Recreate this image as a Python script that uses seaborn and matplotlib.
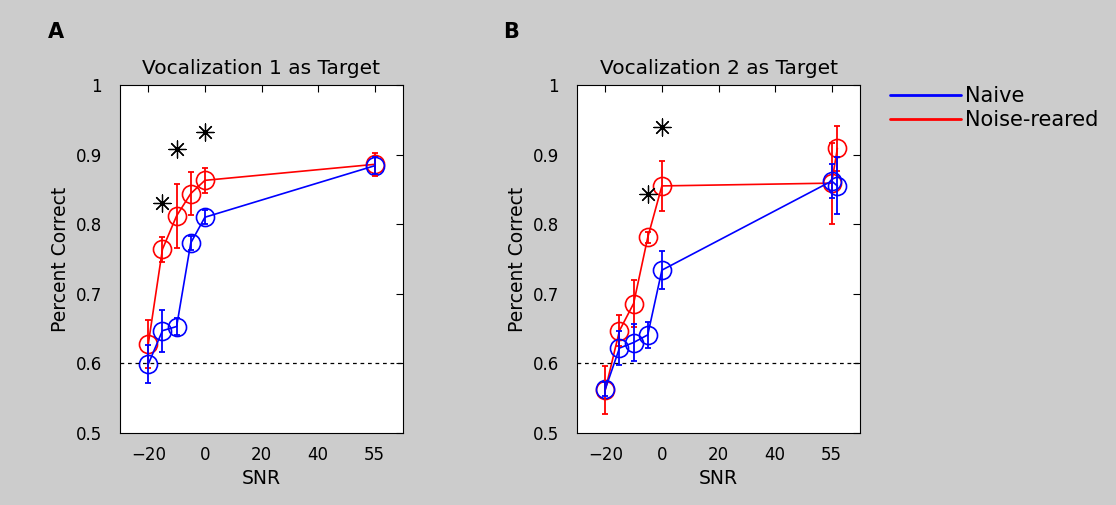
import seaborn as sns
import matplotlib.pyplot as plt
import pandas as pd

# data (SNR 55 is drawn at position 60)
snr_a = [-20, -15, -10, -5, 0, 60]
naive_a = [0.599, 0.647, 0.653, 0.773, 0.810, 0.884]
naive_a_err = [0.027, 0.030, 0.012, 0.010, 0.010, 0.012]
noise_a = [0.628, 0.764, 0.812, 0.844, 0.863, 0.886]
noise_a_err = [0.035, 0.018, 0.046, 0.031, 0.018, 0.017]
star_a_x = [-15, -10, 0]
star_a_y = [0.831, 0.908, 0.932]

snr_b = [-20, -15, -10, -5, 0, 60, 62]
naive_b = [0.563, 0.622, 0.630, 0.641, 0.734, 0.862, 0.855]
naive_b_err = [0.010, 0.025, 0.026, 0.019, 0.027, 0.025, 0.041]
noise_b = [0.562, 0.647, 0.686, 0.781, 0.855, 0.859, 0.909]
noise_b_err = [0.034, 0.022, 0.034, 0.008, 0.036, 0.058, 0.032]
star_b_x = [-5, 0]
star_b_y = [0.843, 0.940]

xticks = [-20, 0, 20, 40, 60]
xticklabels = ['\u221220', '0', '20', '40', '55']
yticks = [0.5, 0.6, 0.7, 0.8, 0.9, 1.0]
yticklabels = ['0.5', '0.6', '0.7', '0.8', '0.9', '1']

BLUE = '#0000ff'
RED = '#ff0000'

sns.set_style('white')
plt.rcParams['font.family'] = ['DejaVu Sans']
plt.rcParams['text.color'] = 'black'
plt.rcParams['axes.labelcolor'] = 'black'

fig = plt.figure(figsize=(11.16, 5.05), dpi=100, facecolor='#cccccc')
ax_a = fig.add_axes([120 / 1116, 1 - 433 / 505, 283 / 1116, 348 / 505])
ax_b = fig.add_axes([577 / 1116, 1 - 433 / 505, 283 / 1116, 348 / 505])


def draw(ax, x, naive, naive_err, noise, noise_err, sx, sy, title):
    df = pd.DataFrame({'SNR': x + x,
                       'pc': naive + noise,
                       'group': ['Naive'] * len(x) + ['Noise-reared'] * len(x)})
    sns.lineplot(data=df, x='SNR', y='pc', hue='group', hue_order=['Noise-reared', 'Naive'],
                 palette={'Naive': BLUE, 'Noise-reared': RED}, sort=False,
                 marker='o', markersize=13, markerfacecolor='none', markeredgewidth=1.2,
                 linewidth=1.2, legend=False, ax=ax)
    for line in ax.lines:
        line.set_markeredgecolor(line.get_color())
    # error bars drawn after the lines so their colour is not touched
    ax.errorbar(x, noise, yerr=noise_err, fmt='none', color=RED, ecolor=RED,
                elinewidth=1.3, capsize=2, capthick=1.3, zorder=3)
    ax.errorbar(x, naive, yerr=naive_err, fmt='none', color=BLUE, ecolor=BLUE,
                elinewidth=1.3, capsize=2, capthick=1.3, zorder=3)
    ax.scatter(sx, sy, marker=(8, 2, 0), s=150, color='black', linewidths=0.9, zorder=5)
    ax.axhline(0.6, color='black', linestyle=(0, (3, 3)), linewidth=0.9)
    ax.set_xlim(-30, 70)
    ax.set_ylim(0.5, 1.0)
    ax.set_xticks(xticks)
    ax.set_xticklabels(xticklabels)
    ax.set_yticks(yticks)
    ax.set_yticklabels(yticklabels)
    ax.tick_params(direction='in', length=5, width=0.8, top=True, right=True,
                   labelsize=12, colors='black')
    ax.tick_params(axis='y', pad=13)
    ax.tick_params(axis='x', pad=9)
    for s in ax.spines.values():
        s.set_visible(True)
        s.set_color('black')
        s.set_linewidth(0.8)
    ax.set_xlabel('SNR', fontsize=13.5, labelpad=4)
    ax.set_ylabel('Percent Correct', fontsize=13.5, labelpad=4)
    ax.set_title(title, fontsize=14.5, pad=8)


draw(ax_a, snr_a, naive_a, naive_a_err, noise_a, noise_a_err, star_a_x, star_a_y,
     'Vocalization 1 as Target')
draw(ax_b, snr_b, naive_b, naive_b_err, noise_b, noise_b_err, star_b_x, star_b_y,
     'Vocalization 2 as Target')

fig.text(48 / 1116, 1 - 32 / 505, 'A', fontsize=15, fontweight='bold', va='center')
fig.text(503 / 1116, 1 - 32 / 505, 'B', fontsize=15, fontweight='bold', va='center')

# legend outside, no frame
handles = [plt.Line2D([], [], color=BLUE, lw=2), plt.Line2D([], [], color=RED, lw=2)]
fig.legend(handles, ['Naive', 'Noise-reared'], loc='upper left',
           bbox_to_anchor=(882 / 1116, 1 - 78 / 505), frameon=False, fontsize=15,
           handlelength=3.4, handletextpad=0.2, labelspacing=0.2, borderaxespad=0)

plt.savefig('out.png', dpi=100, facecolor=fig.get_facecolor())
